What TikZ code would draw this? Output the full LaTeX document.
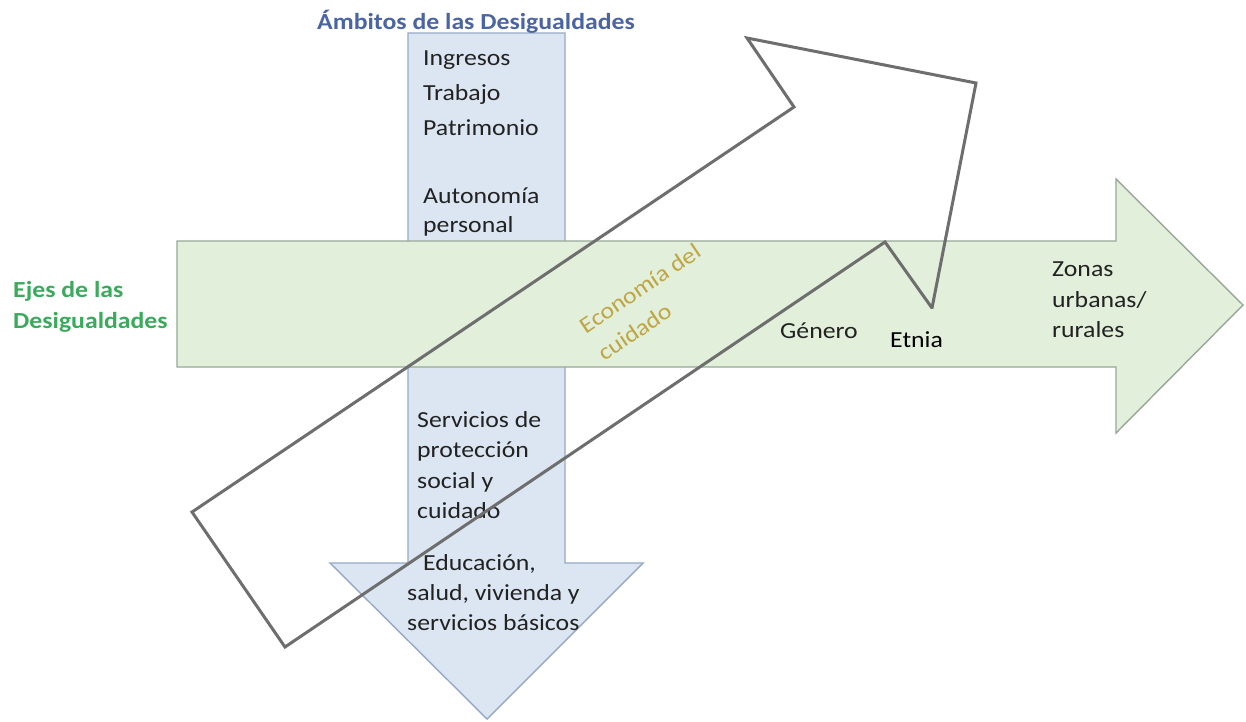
\documentclass[tikz,border=0pt]{standalone}
\usepackage{fontspec}
\setmainfont{Carlito}[FakeStretch=1.12]
\definecolor{bluefill}{HTML}{DCE6F2}
\definecolor{blueline}{HTML}{95A9C6}
\definecolor{greenfill}{HTML}{E2EFDA}
\definecolor{greenline}{HTML}{98A898}
\definecolor{outlinec}{HTML}{6E6E6E}
\definecolor{titleblue}{HTML}{4B65A3}
\definecolor{titlegreen}{HTML}{3BAA5C}
\definecolor{goldc}{HTML}{BFA544}
\definecolor{txtc}{HTML}{222222}
\begin{document}
\begin{tikzpicture}[x=1pt,y=-1pt,
  txt/.style={inner sep=0pt, anchor=base west, font=\fontsize{23}{28}\selectfont, text=txtc},
  head/.style={txt, font=\bfseries\fontsize{23}{28}\selectfont},
  bluearrow/.style={fill=bluefill, draw=blueline, line width=1.4pt, line join=miter},
  greenarrow/.style={fill=greenfill, draw=greenline, line width=1.4pt, line join=miter},
  outlinearrow/.style={draw=outlinec, line width=3pt, line join=miter},
  gold/.style={inner sep=0pt, anchor=center, rotate=34, text=goldc, align=left, font=\fontsize{23}{33}\selectfont}]
\useasboundingbox (0,0) rectangle (1246,721);
\fill[white] (0,0) rectangle (1246,721);

% vertical blue arrow
\draw[bluearrow] (408,33) -- (565,33) -- (565,563) -- (643,563) -- (487,719)
  -- (330,563) -- (408,563) -- cycle;

% horizontal green arrow
\draw[greenarrow] (177,241) -- (1116,241) -- (1116,179) -- (1243,305)
  -- (1116,433) -- (1116,367) -- (177,367) -- cycle;

% titles
\node[head, text=titleblue] (tamb) at (317,29) {Ámbitos de las Desigualdades};
\node[head, text=titlegreen] (teje1) at (13,297) {Ejes de las};
\node[head, text=titlegreen] (teje2) at (13,328) {Desigualdades};

% ambitos (top)
\node[txt] (a1) at (423,65) {Ingresos};
\node[txt] (a2) at (423,100) {Trabajo};
\node[txt] (a3) at (423,135) {Patrimonio};
\node[txt] (a4) at (423,203) {Autonomía};
\node[txt] (a5) at (423,232) {personal};

% ambitos (bottom)
\node[txt] (s1) at (417,427) {Servicios de};
\node[txt] (s2) at (417,457) {protección};
\node[txt] (s3) at (417,488) {social y};
\node[txt] (s4) at (417,518) {cuidado};
\node[txt] (e1) at (423,570) {Educación,};
\node[txt] (e2) at (407,600) {salud, vivienda y};
\node[txt] (e3) at (407,630) {servicios básicos};

% ejes
\node[gold] (eco) at (649,302) {Economía del\\cuidado};
\node[txt] (gen) at (780,338) {Género};
\node[txt] (z1) at (1052,276) {Zonas};
\node[txt] (z2) at (1052,307) {urbanas/};
\node[txt] (z3) at (1052,337) {rurales};

% outline arrow
\coordinate (o1) at (192,512);
\coordinate (o2) at (794,107);
\coordinate (o3) at (747,38);
\coordinate (o4) at (976,83);
\coordinate (o5) at (932,308);
\coordinate (o6) at (885,242);
\coordinate (o7) at (285,647);
\draw[outlinearrow] (o5) -- (o6) -- (o7) -- (o1) -- (o2) -- (o3) -- (o4) -- cycle;

% Etnia label box
\fill[greenfill] (872,309) rectangle (1010,365);
\node[txt, text=black] (etn) at (890,347) {Etnia};
\end{tikzpicture}
\end{document}
